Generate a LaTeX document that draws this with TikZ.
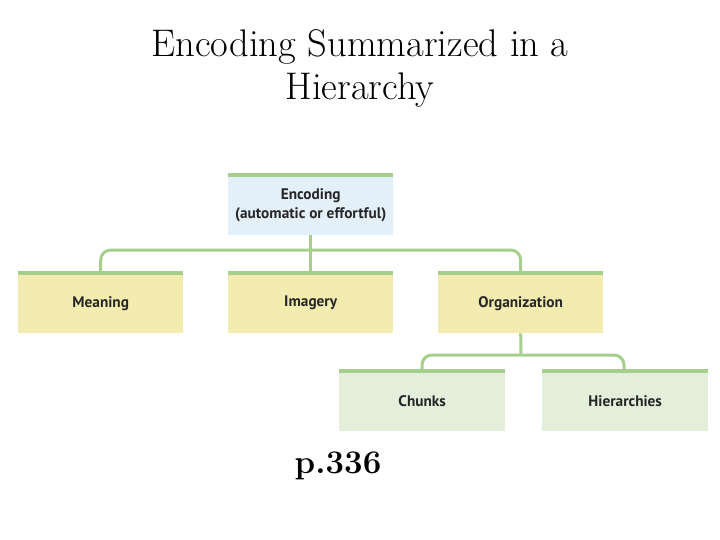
\documentclass[tikz,border=0pt]{standalone}
\usepackage{fontspec}
\newfontfamily\boxfont{PT Sans}
\definecolor{cgreen}{HTML}{A6CF8E}
\definecolor{cblue}{HTML}{E3F0F9}
\definecolor{cyellow}{HTML}{F3ECB0}
\definecolor{clgreen}{HTML}{E4EFDB}
\begin{document}
\begin{tikzpicture}[x=1pt,y=-1pt,
  box/.style={rectangle, anchor=north west, minimum width=165pt, minimum height=60pt, inner sep=0pt, font=\boxfont\bfseries\fontsize{15.3}{18.5}\selectfont, align=center, text=black!85},
  conn/.style={draw=cgreen, line width=3pt, rounded corners=10pt},
  topbar/.style={draw=cgreen, line width=4pt}]
\useasboundingbox (0,0) rectangle (720,540);
\node[font=\fontsize{38.5}{43}\selectfont, align=center, anchor=center] (title) at (360,68) {Encoding Summarized in a\\Hierarchy};
\node[box, fill=cblue] (enc) at (228,175) {Encoding\\(automatic or effortful)};
\node[box, fill=cyellow] (mea) at (18,273) {Meaning};
\node[box, fill=cyellow] (img) at (228,273) {Imagery};
\node[box, fill=cyellow] (org) at (438,273) {Organization};
\node[box, fill=clgreen, minimum width=166pt] (chu) at (339,371) {Chunks};
\node[box, fill=clgreen, minimum width=166pt] (hie) at (542,371) {Hierarchies};
\coordinate (j1) at (311,250);
\coordinate (j2) at (521,355);
\draw[conn] (enc.south) -- (img.north);
\draw[conn] (mea.north) |- (j1);
\draw[conn] (org.north) |- (j1);
\draw[conn] (org.south) -- (j2);
\draw[conn] (chu.north -| 422,0) |- (j2);
\draw[conn] (hie.north -| 624,0) |- (j2);
\foreach \n in {enc,mea,img,org,chu,hie}{\draw[topbar] (\n.north west) -- (\n.north east);}
\node[font=\bfseries\fontsize{33}{38}\selectfont] (page) at (338,466) {p.336};
\end{tikzpicture}
\end{document}
